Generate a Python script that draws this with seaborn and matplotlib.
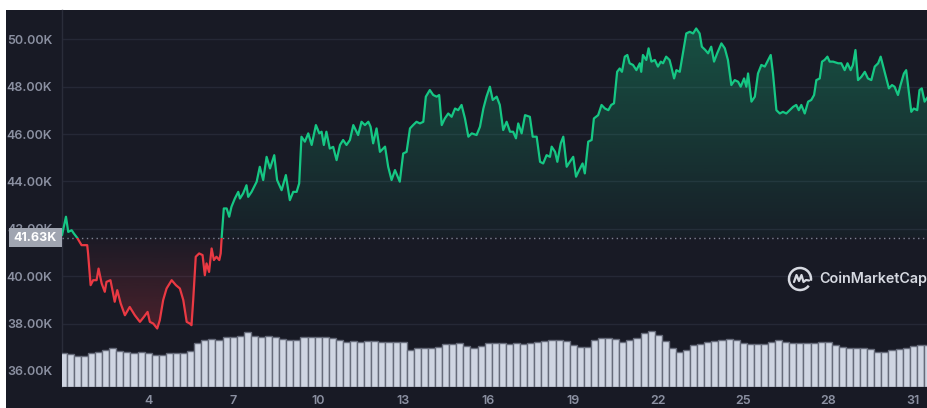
import numpy as np
import pandas as pd
import seaborn as sns
import matplotlib
matplotlib.use("Agg")
import matplotlib.pyplot as plt
from matplotlib import transforms
from matplotlib.colors import to_rgb
from matplotlib.lines import Line2D
from matplotlib.patches import Arc, Rectangle
from matplotlib.ticker import FuncFormatter

# --- data (price in thousands USD, day of month) ---
days = [
    0.96, 1.10, 1.18, 1.30, 1.38, 1.49, 1.65, 1.85, 1.88, 1.97,
    2.06, 2.18, 2.25, 2.36, 2.47, 2.53, 2.67, 2.82, 2.91, 3.03,
    3.18, 3.35, 3.53, 3.71, 3.85, 3.98, 4.06, 4.18, 4.32, 4.41,
    4.53, 4.65, 4.83, 4.98, 5.12, 5.24, 5.36, 5.47, 5.53, 5.59,
    5.68, 5.80, 5.92, 6.00, 6.06, 6.15, 6.24, 6.32, 6.41, 6.51,
    6.56, 6.60, 6.67, 6.77, 6.86, 6.94, 7.06, 7.18, 7.24, 7.35,
    7.47, 7.53, 7.65, 7.83, 7.94, 8.06, 8.18, 8.30, 8.45, 8.55,
    8.71, 8.86, 9.00, 9.12, 9.24, 9.33, 9.41, 9.53, 9.65, 9.77,
    9.92, 10.04,
    10.12, 10.20, 10.29, 10.41, 10.53, 10.65, 10.77, 10.88, 11.00, 11.12,
    11.24, 11.41, 11.53, 11.65, 11.77, 11.85, 11.94, 12.06, 12.18, 12.36,
    12.47, 12.59, 12.71, 12.88, 13.00, 13.12, 13.24, 13.35, 13.47, 13.59,
    13.71, 13.80, 13.94, 14.06, 14.18, 14.27, 14.36, 14.47, 14.59, 14.71,
    14.83, 14.94, 15.06, 15.18, 15.30, 15.42, 15.59, 15.71, 15.83, 15.94,
    16.06, 16.16, 16.30, 16.41, 16.53, 16.65, 16.77, 16.88, 16.98, 17.06,
    17.18, 17.30, 17.47, 17.57, 17.71, 17.83, 17.94, 18.06, 18.18, 18.24,
    18.36, 18.44, 18.56, 18.65, 18.77, 18.88, 19.00, 19.10, 19.21, 19.33,
    19.41, 19.53, 19.65, 19.73, 19.88, 20.00, 20.12, 20.24,
    20.34, 20.44, 20.55, 20.64, 20.72, 20.82, 20.91, 20.99, 21.11, 21.23,
    21.35, 21.40, 21.46, 21.58, 21.66, 21.76, 21.88, 21.99, 22.09, 22.17,
    22.28, 22.40, 22.46, 22.56, 22.64, 22.76, 22.87, 22.99, 23.11, 23.23,
    23.34, 23.46, 23.54, 23.66, 23.76, 23.87, 23.97, 24.08, 24.23, 24.35,
    24.46, 24.58, 24.70, 24.82, 24.91, 25.03, 25.11, 25.17, 25.29, 25.41,
    25.52, 25.64, 25.76, 25.85, 25.97, 26.05, 26.17, 26.29, 26.40, 26.52,
    26.64, 26.76, 26.87, 26.96, 27.05, 27.17, 27.29, 27.40, 27.50, 27.58,
    27.70, 27.78, 27.87, 27.97, 28.05, 28.17, 28.35, 28.46, 28.58, 28.68,
    28.79, 28.87, 28.96, 29.05, 29.17, 29.29, 29.40, 29.52, 29.64, 29.76,
    29.85, 29.94, 30.05, 30.14, 30.25, 30.34, 30.46, 30.55, 30.67, 30.75,
    30.83, 30.93, 31.02, 31.14, 31.22, 31.30, 31.40, 31.52,
]
price_k = [
    41.73, 42.51, 41.87, 41.94, 41.80, 41.63, 41.31, 41.31, 40.96, 39.62,
    39.83, 39.83, 40.32, 39.69, 39.34, 39.76, 39.83, 38.92, 39.41, 38.85,
    38.35, 38.70, 38.35, 38.07, 38.28, 38.49, 38.07, 38.00, 37.79, 38.14,
    38.99, 39.48, 39.83, 39.62, 39.48, 38.99, 38.07, 38.00, 37.93, 38.99,
    40.82, 40.96, 40.89, 40.04, 40.54, 40.18, 41.17, 40.68, 40.82, 40.68,
    40.96, 41.73, 42.86, 42.86, 42.51, 42.93, 43.28, 43.56, 43.28, 43.49,
    43.84, 43.35, 43.56, 43.99, 44.62, 44.06, 45.04, 44.55, 45.11, 44.06,
    43.63, 44.27, 43.21, 43.56, 43.56, 43.92, 45.89, 45.68, 46.03, 45.54,
    46.38, 46.03,
    46.10, 45.54, 46.10, 45.39, 45.46, 44.90, 45.54, 45.75, 45.54, 45.75,
    46.38, 45.96, 46.52, 46.38, 46.52, 46.31, 45.61, 46.24, 45.25, 45.47,
    44.62, 44.06, 44.48, 43.99, 45.18, 45.25, 46.24, 46.38, 46.52, 46.45,
    46.52, 47.58, 47.86, 47.65, 47.58, 47.65, 46.38, 46.66, 46.87, 46.73,
    47.08, 47.01, 47.23, 46.66, 45.89, 46.03, 45.96, 46.31, 47.08, 47.58,
    48.00, 47.44, 47.58, 47.23, 46.17, 46.52, 46.10, 46.10, 45.82, 46.45,
    46.03, 46.80, 46.73, 45.89, 45.89, 44.83, 44.76, 45.11, 45.04, 45.47,
    45.25, 44.83, 45.61, 45.89, 44.62, 44.83, 45.04, 44.20, 44.48, 44.76,
    44.34, 45.68, 45.75, 46.66, 46.80, 47.23, 47.08, 47.01,
    47.23, 47.30, 48.63, 48.77, 48.63, 49.27, 49.34, 48.99, 48.92, 48.70,
    48.99, 48.63, 49.34, 49.13, 49.62, 49.06, 49.13, 48.85, 49.06, 48.99,
    49.27, 49.13, 48.85, 48.35, 48.70, 48.63, 49.41, 50.25, 50.32, 50.25,
    50.46, 50.25, 49.69, 49.55, 49.41, 49.69, 49.06, 49.41, 49.83, 49.62,
    49.13, 48.07, 48.28, 48.21, 48.00, 48.35, 48.00, 48.56, 47.37, 47.58,
    48.56, 48.92, 48.85, 49.06, 49.34, 48.56, 47.01, 46.87, 46.94, 46.87,
    47.01, 47.15, 47.23, 47.01, 47.23, 46.87, 47.37, 47.44, 47.65, 48.28,
    48.35, 49.06, 49.13, 49.27, 49.06, 49.06, 48.99, 48.99, 48.70, 48.99,
    48.70, 48.92, 49.55, 48.28, 48.42, 48.63, 48.35, 48.28, 48.85, 48.99,
    49.27, 48.85, 48.35, 47.93, 48.07, 48.00, 47.65, 48.07, 48.56, 48.70,
    47.93, 46.94, 47.08, 47.01, 47.86, 47.93, 47.37, 47.58,
]

# 6-hour volume bars, starting day 1 00:00 (billions USD)
volume_b = [
    17.0, 16.5, 15.5, 15.5,  17.0, 17.5, 18.5, 19.5,  18.0, 17.5, 17.0, 17.5,
    17.0, 16.0, 16.0, 17.0,  17.0, 17.0, 18.0, 22.0,  23.5, 24.0, 23.5, 25.0,
    25.0, 25.5, 27.5, 25.5,  25.0, 25.5, 25.0, 24.0,  23.5, 23.5, 25.0, 25.0,
    25.0, 25.0, 24.5, 23.5,  22.5, 23.0, 22.5, 23.0,  23.0, 22.5, 22.5, 22.5,
    22.5, 18.5, 19.5, 19.5,  19.5, 20.0, 21.5, 21.5,  22.0, 20.5, 19.5, 20.5,
    22.0, 22.0, 22.0, 21.5,  22.0, 21.5, 22.0, 22.5,  23.0, 23.5, 23.5, 23.0,
    21.0, 20.0, 20.0, 23.5,  24.5, 24.5, 24.0, 22.5,  23.5, 24.5, 27.0, 28.0,
    26.0, 23.0, 19.5, 17.5,  18.5, 21.0, 21.5, 22.5,  23.0, 23.5, 24.0, 23.5,
    22.0, 21.5, 21.5, 21.5,  22.5, 23.5, 22.5, 22.0,  22.0, 22.0, 22.0, 22.5,
    22.5, 21.0, 20.0, 19.5,  19.5, 19.5, 19.0, 17.5,  17.5, 18.5, 19.0, 19.5,
    20.5, 21.0, 21.0,
]
vol_days = 1.0 + 0.25 * np.arange(len(volume_b))

open_price = 41.63
x_ticks = [4, 7, 10, 13, 16, 19, 22, 25, 28, 31]
y_ticks = [36, 38, 40, 42, 44, 46, 48, 50]

# --- style ---
BG = "#181a25"
GREEN = "#16c784"
RED = "#ea3943"
MUTED = "#8b90a1"

sns.set_style("dark")
plt.rcParams["font.family"] = ["Inter", "DejaVu Sans"]

W, H = 928, 408
fig = plt.figure(figsize=(W / 100, H / 100), dpi=100, facecolor="white")
fig.add_artist(Rectangle((6 / W, 0), 1, 398 / H, transform=fig.transFigure,
                         facecolor=BG, edgecolor="none", zorder=-5))

ax = fig.add_axes([62 / W, 21 / H, 866 / W, 377 / H])
ax.set_facecolor(BG)
x0, x1 = 0.96, 31.52
y0, y1 = 35.32, 51.24

df = pd.DataFrame({"day": days, "price": price_k})

# gradient fills clipped to the area between price and open price
poly = ax.fill_between(df["day"], df["price"], open_price, facecolor="none", edgecolor="none")
clip = poly.get_paths()[0]

g = np.zeros((256, 1, 4))
g[..., :3] = to_rgb(GREEN)
g[:, 0, 3] = np.linspace(0.03, 0.34, 256)
im_g = ax.imshow(g, extent=[x0, x1, open_price, y1], origin="lower", aspect="auto",
                 interpolation="bilinear", zorder=1)
im_g.set_clip_path(clip, transform=ax.transData)

r = np.zeros((256, 1, 4))
r[..., :3] = to_rgb(RED)
r[:, 0, 3] = np.linspace(0.38, 0.02, 256)
im_r = ax.imshow(r, extent=[x0, x1, y0, open_price], origin="lower", aspect="auto",
                 interpolation="bilinear", zorder=1)
im_r.set_clip_path(clip, transform=ax.transData)

# price line, green above the open price and red below
sns.lineplot(data=df, x="day", y="price", ax=ax, color=GREEN, lw=1.6,
             estimator=None, sort=False, zorder=4)
ax.lines[-1].set_clip_path(Rectangle((x0, open_price), x1 - x0, 30, transform=ax.transData))
sns.lineplot(data=df, x="day", y="price", ax=ax, color=RED, lw=1.6,
             estimator=None, sort=False, zorder=4)
ax.lines[-1].set_clip_path(Rectangle((x0, y0 - 5), x1 - x0, open_price - y0 + 5,
                                     transform=ax.transData))

ax.axhline(open_price, color="#7d8292", lw=1, ls=(0, (1, 2.5)), zorder=3)

ax.set_xlim(x0, x1)
ax.set_ylim(y0, y1)
ax.set_xlabel("")
ax.set_ylabel("")
ax.set_yticks(y_ticks)
ax.yaxis.set_major_formatter(FuncFormatter(lambda v, _: f"{v:.2f}K"))
ax.set_xticks(x_ticks)
ax.set_xticklabels([str(t) for t in x_ticks])
ax.tick_params(axis="y", length=0, pad=7, labelsize=9, labelcolor=MUTED)
ax.tick_params(axis="x", length=3, width=1, color=MUTED, pad=3, labelsize=9, labelcolor=MUTED)
for lab in ax.get_xticklabels() + ax.get_yticklabels():
    lab.set_fontweight("semibold")
ax.grid(False)
ax.yaxis.grid(True, color="#252836", lw=1)
ax.set_axisbelow(True)
for s in ["top", "right", "bottom"]:
    ax.spines[s].set_visible(False)
ax.spines["left"].set_color("#2a2d3a")
ax.spines["left"].set_linewidth(1)

# volume bars on a twin axis
vax = ax.twinx()
vax.bar(vol_days, volume_b, width=0.25, color="#cfd5e2", edgecolor="#666b7a", linewidth=1.0)
vax.set_ylim(0, 188.5)
vax.set_xlim(x0, x1)
vax.axis("off")

# current price tag
blend = transforms.blended_transform_factory(fig.transFigure, ax.transData)
ax.add_patch(Rectangle((9 / W, open_price - 0.40), 53 / W, 0.80, transform=blend,
                       facecolor="#a0a5b1", edgecolor="none", clip_on=False, zorder=10))
ax.text(35.5 / W, open_price, f"{open_price:.2f}K", transform=blend, ha="center", va="center",
        color="white", fontsize=9, fontweight="bold", zorder=11, clip_on=False)

# watermark
wm = "#d6d9e1"
cx, cy = 800, 279
fig.add_artist(Arc((cx / W, (H - cy) / H), 22 / W, 22 / H, theta1=-20, theta2=300,
                   transform=fig.transFigure, color=wm, lw=1.8))
mx = np.array([-6.0, -3.5, -1.0, 1.5, 3.5, 6.0, 9.0])
my = np.array([-3.0, 4.0, -2.0, 4.0, -3.0, -1.0, -1.5])
fig.add_artist(Line2D((cx + mx) / W, (H - cy + my) / H, transform=fig.transFigure,
                      color=wm, lw=1.6, solid_joinstyle="round"))
fig.text(819 / W, (H - cy) / H, "CoinMarketCap", color=wm, fontsize=10.3, fontweight="semibold",
         ha="left", va="center")

fig.savefig("out.png", dpi=100, facecolor=fig.get_facecolor())
